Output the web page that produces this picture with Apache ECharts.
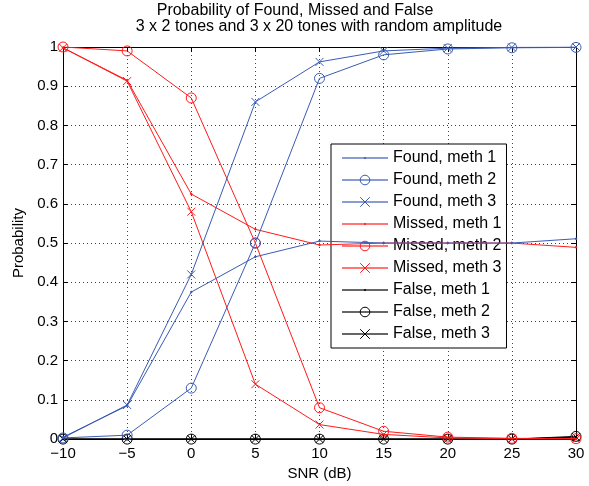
<!DOCTYPE html>
<html><head><meta charset="utf-8">
<script src="https://cdn.jsdelivr.net/npm/echarts@6/dist/echarts.min.js"></script>
<style>html,body{margin:0;padding:0;background:#fff}#c{width:589px;height:486px}</style>
</head><body><div id="c"></div>
<script>
const snr = [-10, -5, 0, 5, 10, 15, 20, 25, 30];
const foundM1 = [0.005, 0.085, 0.375, 0.465, 0.505, 0.5, 0.5, 0.5, 0.511];
const foundM2 = [0.003, 0.01, 0.13, 0.5, 0.92, 0.98, 0.995, 0.998, 0.999];
const foundM3 = [0.003, 0.087, 0.42, 0.86, 0.962, 0.99, 0.997, 0.999, 1.0];
const missedM1 = [0.998, 0.915, 0.625, 0.535, 0.495, 0.5, 0.5, 0.5, 0.489];
const missedM2 = [1.0, 0.99, 0.87, 0.5, 0.08, 0.02, 0.005, 0.002, 0.001];
const missedM3 = [0.998, 0.913, 0.58, 0.14, 0.037, 0.012, 0.003, 0.001, 0.0];
const falseM1 = [0, 0, 0, 0, 0, 0, 0, 0, 0.003];
const falseM2 = [0, 0, 0, 0, 0, 0, 0, 0, 0.007];
const falseM3 = [0, 0, 0, 0, 0, 0, 0, 0, 0.005];
const names = ['Found, meth 1','Found, meth 2','Found, meth 3','Missed, meth 1','Missed, meth 2','Missed, meth 3','False, meth 1','False, meth 2','False, meth 3'];
const values = [foundM1, foundM2, foundM3, missedM1, missedM2, missedM3, falseM1, falseM2, falseM3];
const titleLine1 = 'Probability of Found, Missed and False';
const titleLine2 = '3 x 2 tones and 3 x 20 tones with random amplitude';

const BLUE = '#3a5bb5', RED = '#ff1a1a', BLACK = '#000000';
const colors = [BLUE, BLUE, BLUE, RED, RED, RED, BLACK, BLACK, BLACK];
const FONT = '"Liberation Sans", Arial, sans-serif';
const crossPath = 'path://M0,0L10,10M10,0L0,10';
const dotPath = 'path://M0,0M12,12M4.5,6L6,4.5L7.5,6L6,7.5Z';

function markerStyle(i) {
  const m = i % 3, c = colors[i];
  if (m === 0) return { symbol: dotPath, symbolSize: 12, itemStyle: { color: c, borderWidth: 0 } };
  if (m === 1) return { symbol: 'circle', symbolSize: 10, itemStyle: { color: 'rgba(0,0,0,0)', borderColor: c, borderWidth: 1 } };
  return { symbol: crossPath, symbolSize: 8, itemStyle: { color: 'rgba(0,0,0,0)', borderColor: c, borderWidth: 1 } };
}

function mkSeries(i) {
  const c = colors[i];
  const ms = markerStyle(i);
  return {
    name: names[i], type: 'line',
    data: snr.map((x, k) => [x, values[i][k]]),
    lineStyle: { color: c, width: 1 },
    symbol: ms.symbol, symbolSize: ms.symbolSize, itemStyle: ms.itemStyle,
    showSymbol: true, animation: false, z: 3 + (2 - Math.floor(i / 3))
  };
}

const chart = echarts.init(document.getElementById('c'), null, { renderer: 'canvas' });
const minus = v => String(v).replace('-', '\u2212');
const tick = { show: true, inside: true, length: 5, lineStyle: { color: '#000' } };
chart.setOption({
  animation: false,
  textStyle: { fontFamily: FONT },
  title: [{
    text: titleLine1, left: 295, top: 3, textAlign: 'center', padding: 0,
    textStyle: { fontFamily: FONT, fontSize: 16, fontWeight: 'normal', color: '#000' }
  }, {
    text: titleLine2, left: 319, top: 19, textAlign: 'center', padding: 0,
    textStyle: { fontFamily: FONT, fontSize: 16, fontWeight: 'normal', color: '#000' }
  }],
  grid: { left: 63, right: 13, top: 47, bottom: 44 },
  legend: {
    orient: 'vertical', left: 331, top: 144,
    itemWidth: 46, itemHeight: 12, itemGap: 6,
    padding: [6, 5, 6, 10],
    backgroundColor: '#fff', borderColor: '#000', borderWidth: 1,
    textStyle: { fontFamily: FONT, fontSize: 16, color: '#000', padding: [0, 0, 0, 0] },
    lineStyle: { width: 2, opacity: 0.6 },
    data: names.map((n, i) => ({ name: n, itemStyle: markerStyle(i).itemStyle }))
  },
  xAxis: [{
    type: 'value', min: -10, max: 30, interval: 5,
    name: 'SNR (dB)', nameLocation: 'middle', nameGap: 20,
    nameTextStyle: { fontFamily: FONT, fontSize: 15, color: '#000' },
    axisLine: { show: true, onZero: false, lineStyle: { color: '#000', width: 1 } },
    axisTick: tick,
    axisLabel: { fontFamily: FONT, fontSize: 15, color: '#000', margin: 7, formatter: minus },
    splitLine: { show: true, lineStyle: { color: '#444', type: [1, 3], width: 1 } }
  }, {
    type: 'value', min: -10, max: 30, interval: 5, position: 'top',
    axisLine: { show: true, onZero: false, lineStyle: { color: '#000' } },
    axisTick: tick, axisLabel: { show: false }, splitLine: { show: false }
  }],
  yAxis: [{
    type: 'value', min: 0, max: 1, interval: 0.1,
    name: 'Probability', nameLocation: 'middle', nameGap: 36,
    nameTextStyle: { fontFamily: FONT, fontSize: 15, color: '#000' },
    axisLine: { show: true, onZero: false, lineStyle: { color: '#000', width: 1 } },
    axisTick: tick,
    axisLabel: { fontFamily: FONT, fontSize: 15, color: '#000', margin: 5,
      formatter: v => String(Math.round(v * 10) / 10) },
    splitLine: { show: true, lineStyle: { color: '#444', type: [1, 3], width: 1 } }
  }, {
    type: 'value', min: 0, max: 1, interval: 0.1, position: 'right',
    axisLine: { show: true, onZero: false, lineStyle: { color: '#000' } },
    axisTick: tick, axisLabel: { show: false }, splitLine: { show: false }
  }],
  series: names.map((_, i) => mkSeries(i))
});
</script></body></html>
